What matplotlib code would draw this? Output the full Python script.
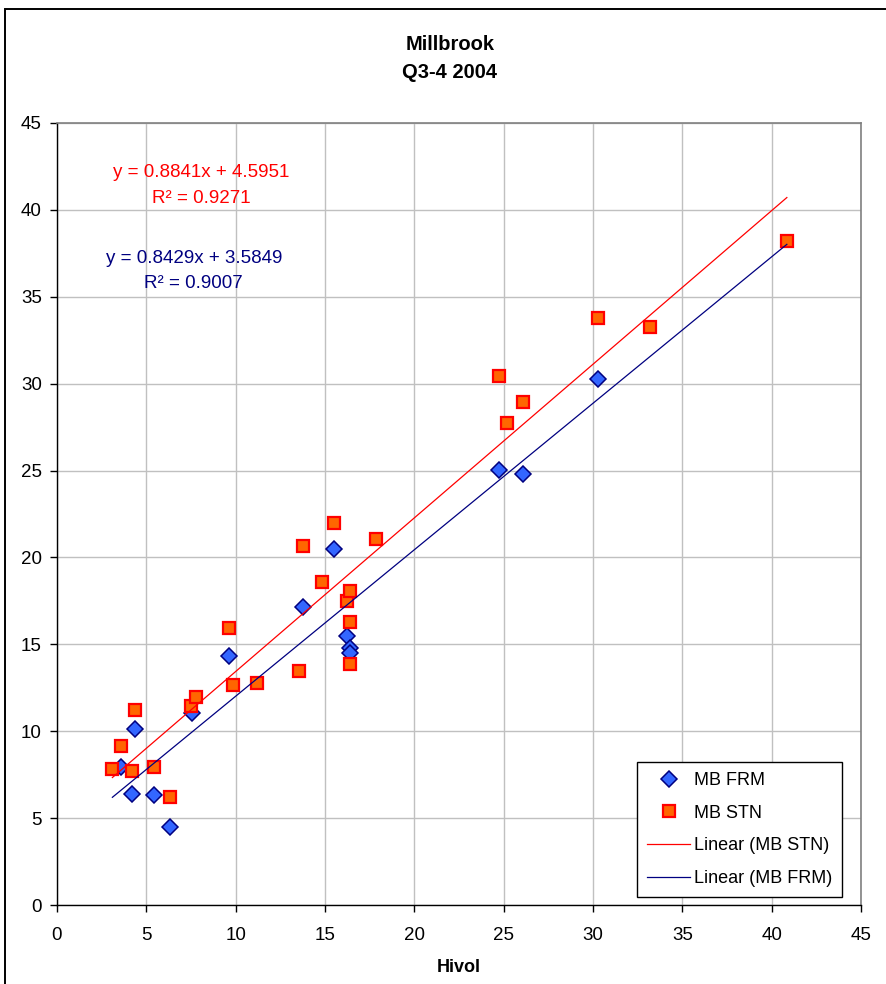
import matplotlib
matplotlib.use("Agg")
import matplotlib.pyplot as plt
from matplotlib.lines import Line2D
from matplotlib.patches import Rectangle
import numpy as np

plt.rcParams['font.family'] = ['Liberation Sans', 'DejaVu Sans']

# Hivol vs. collocated samplers, Millbrook, Q3-Q4 2004
stn_x = [3.1, 3.58, 4.18, 4.36, 5.45, 6.32, 7.5, 7.78, 9.64, 9.83, 11.2, 13.56, 13.75,
         14.85, 15.52, 16.21, 16.4, 16.4, 16.4, 17.85, 24.73, 25.2, 26.09, 30.29, 33.2, 40.85]
stn_y = [7.82, 9.15, 7.72, 11.25, 7.92, 6.23, 11.45, 11.95, 15.95, 12.66, 12.75, 13.46, 20.67,
         18.58, 22.0, 17.49, 18.08, 16.26, 13.87, 21.09, 30.45, 27.73, 28.94, 33.75, 33.26, 38.2]

frm_x = [3.58, 4.18, 4.36, 5.45, 6.32, 7.54, 9.64, 13.75, 15.52, 16.21, 16.4, 16.4,
         24.73, 26.09, 30.29]
frm_y = [7.94, 6.39, 10.1, 6.33, 4.5, 11.02, 14.34, 17.16, 20.48, 15.48, 14.77, 14.5,
         25.03, 24.83, 30.24]

# Linear trend fits
stn_slope, stn_icpt, stn_r2 = 0.8841, 4.5951, 0.9271
frm_slope, frm_icpt, frm_r2 = 0.8429, 3.5849, 0.9007

ticks = [0, 5, 10, 15, 20, 25, 30, 35, 40, 45]

W, H = 887, 984
fig = plt.figure(figsize=(W / 100, H / 100), dpi=100)
fig.patch.set_facecolor('white')

L, R, T, B = 57, 861, 123, 905
ax = fig.add_axes([L / W, 1 - B / H, (R - L) / W, (B - T) / H])

navy = '#000080'
red = '#FF0000'
diamond = dict(ls='none', marker='D', ms=8.0, mfc='#3366FF', mec=navy, mew=1.1)
square = dict(ls='none', marker='s', ms=8.3, mfc='#FF6600', mec=red, mew=1.6)

ax.grid(True, color='#c0c0c0', lw=1.0, zorder=0)
ax.set_axisbelow(True)

ax.plot(frm_x, frm_y, zorder=3, label='MB FRM', **diamond)
ax.plot(stn_x, stn_y, zorder=4, label='MB STN', **square)

# Trend lines span the full Hivol range
hv = np.array([min(stn_x + frm_x), max(stn_x + frm_x)])
ax.plot(hv, stn_slope * hv + stn_icpt, color=red, lw=0.9, zorder=5)
ax.plot(hv, frm_slope * hv + frm_icpt, color=navy, lw=0.9, zorder=5)

ax.set_xlim(0, 45)
ax.set_ylim(0, 45)
ax.set_xticks(ticks)
ax.set_yticks(ticks)
ax.tick_params(axis='both', direction='out', length=5, width=1, colors='black', labelsize=13.5)
ax.tick_params(axis='x', pad=11)
ax.tick_params(axis='y', pad=6)

for side in ('top', 'right'):
    ax.spines[side].set_color('#808080')
    ax.spines[side].set_linewidth(1.2)
for side in ('left', 'bottom'):
    ax.spines[side].set_color('black')
    ax.spines[side].set_linewidth(1.0)

ax.set_xlabel('Hivol', fontsize=13, fontweight='bold')
ax.xaxis.label.set_va('center')
ax.xaxis.set_label_coords(0.5, -(967 - B) / (B - T))

# Trendline equations
ax.text(8.06, 42.15, f'y = {stn_slope:.4f}x + {stn_icpt:.4f}', color=red, fontsize=13.5,
        ha='center', va='center')
ax.text(8.06, 40.65, f'R² = {stn_r2:.4f}', color=red, fontsize=13.5, ha='center', va='center')
ax.text(7.66, 37.2, f'y = {frm_slope:.4f}x + {frm_icpt:.4f}', color=navy, fontsize=13.5,
        ha='center', va='center')
ax.text(7.66, 35.75, f'R² = {frm_r2:.4f}', color=navy, fontsize=13.5, ha='center', va='center')

# Titles
fig.text(450 / W, 1 - 45 / H, 'Millbrook', fontsize=14.5, fontweight='bold', ha='center', va='center')
fig.text(450 / W, 1 - 73 / H, 'Q3-4 2004', fontsize=14.5, fontweight='bold', ha='center', va='center')

handles = [
    Line2D([], [], **diamond),
    Line2D([], [], **square),
    Line2D([], [], color=red, lw=0.9),
    Line2D([], [], color=navy, lw=0.9),
]
labels = ['MB FRM', 'MB STN', 'Linear (MB STN)', 'Linear (MB FRM)']
leg = fig.legend(handles, labels, loc='upper left', bbox_to_anchor=(637 / W, 1 - 762 / H),
                 bbox_transform=fig.transFigure, fontsize=13, frameon=True, fancybox=False,
                 edgecolor='black', framealpha=1, borderaxespad=0, borderpad=0.55,
                 handlelength=2.4, handletextpad=0.2, labelspacing=0.87)
leg.get_frame().set_linewidth(1.0)

# Chart-area border
fig.patches.append(Rectangle((5 / W, -0.1), 2.0, 1.1 - 9 / H, transform=fig.transFigure,
                             fill=False, edgecolor='black', lw=1.4, clip_on=False))

fig.savefig('out.png', dpi=100)
